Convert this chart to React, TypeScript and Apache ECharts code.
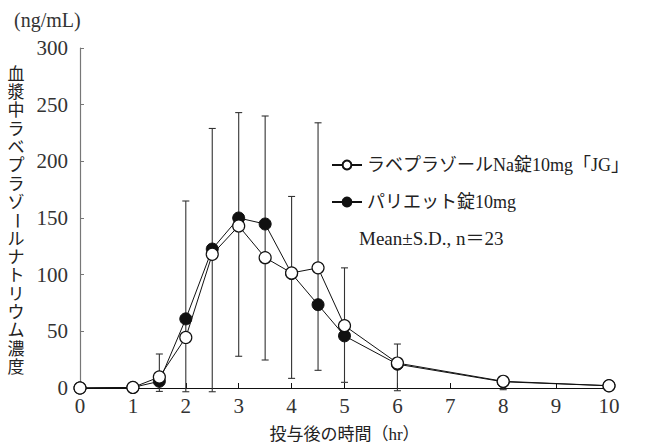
import React, { useEffect, useRef } from "react";
import * as echarts from "echarts";

const times = [0, 1, 1.5, 2, 2.5, 3, 3.5, 4, 4.5, 5, 6, 8, 10];
const jgMean = [0, 0.5, 9.7, 44.6, 118, 143, 115, 101.5, 106, 55, 22, 5.9, 2];
const parietMean = [0, 0.5, 5.9, 61, 122.6, 150, 144.7, 101, 73.5, 46, 21, 5.5, 2];
const sdTimes = [1.5, 2, 2.5, 3, 3.5, 4, 4.5, 5, 6, 8];
const sdLow = [-3, -3.3, -3.3, 28, 24.7, 8.5, 15.6, 5, -2.4, -1.5];
const sdHigh = [30, 165, 229, 243, 240, 169, 234, 106, 38.8, 8.8];
const xTicks = [0, 1, 2, 3, 4, 5, 6, 7, 8, 9, 10];
const yTicks = [0, 50, 100, 150, 200, 250, 300];
const seriesNames = ["ラベプラゾールNa錠10mg「JG」", "パリエット錠10mg"];
const yTitle = "血漿中ラベプラゾールナトリウム濃度";
const xTitle = "投与後の時間（hr）";
const unitLabel = "(ng/mL)";
const noteText = "Mean±S.D., n＝23";

const SERIF = "'Liberation Serif', 'Noto Sans CJK JP', serif";

export default function App() {
  const ref = useRef<HTMLDivElement>(null);
  useEffect(() => {
    if (!ref.current) return;
    const chart = echarts.init(ref.current, undefined, { renderer: "svg" });
    const yChars = yTitle.split("").map((ch, i) => ({
      type: "text",
      x: 16,
      y: 74 + i * 18.35,
      rotation: ch === "ー" ? -Math.PI / 2 : 0,
      style: {
        text: ch,
        fontSize: 17,
        fontFamily: SERIF,
        fill: "#222",
        align: "center",
        verticalAlign: "middle",
      },
    }));
    const option: any = {
      animation: false,
      grid: { left: 80, right: 37, top: 48, bottom: 56, outerBoundsMode: "none", containLabel: false },
      xAxis: {
        type: "value",
        min: 0,
        max: 10,
        interval: 1,
        name: xTitle,
        nameLocation: "middle",
        nameGap: 38,
        nameTextStyle: { fontSize: 17, fontFamily: SERIF, color: "#222" },
        axisLine: { lineStyle: { color: "#111", width: 1 } },
        axisTick: { inside: true, length: 5, lineStyle: { color: "#111" } },
        axisLabel: {
          fontSize: 21,
          fontFamily: SERIF,
          color: "#333",
          margin: 7,
          formatter: (v: number) => (xTicks.includes(v) ? String(v) : ""),
        },
        splitLine: { show: false },
      },
      yAxis: {
        type: "value",
        min: 0,
        max: 300,
        interval: 50,
        axisLine: { show: true, lineStyle: { color: "#777", width: 1.2 } },
        axisTick: { show: true, inside: true, length: 4, lineStyle: { color: "#777" } },
        axisLabel: {
          fontSize: 21,
          fontFamily: SERIF,
          color: "#333",
          margin: 12,
          formatter: (v: number) => (yTicks.includes(v) ? String(v) : ""),
        },
        splitLine: { show: false },
      },
      legend: {
        orient: "vertical",
        left: 326,
        top: 151,
        itemWidth: 30,
        itemHeight: 11,
        itemGap: 19,
        data: [seriesNames[0], seriesNames[1]],
        textStyle: { fontSize: 18, fontFamily: SERIF, color: "#222" },
      },
      graphic: [
        {
          type: "text",
          left: 14,
          top: 10,
          style: { text: unitLabel, fontSize: 20, fontFamily: SERIF, fill: "#333" },
        },
        {
          type: "text",
          x: 359,
          y: 238,
          style: {
            text: noteText,
            fontSize: 19,
            fontFamily: SERIF,
            fill: "#222",
            verticalAlign: "middle",
          },
        },
        ...yChars,
      ],
      series: [
        {
          type: "custom",
          name: "SD",
          clip: false,
          z: 1,
          data: sdTimes.map((t, i) => [t, sdLow[i], sdHigh[i]]),
          renderItem: (params: any, api: any) => {
            const x = api.value(0);
            const lo = api.coord([x, api.value(1)]);
            const hi = api.coord([x, api.value(2)]);
            const hw = 3.5;
            const st = { stroke: "#333", lineWidth: 1.1 };
            return {
              type: "group",
              children: [
                { type: "line", shape: { x1: lo[0], y1: lo[1], x2: hi[0], y2: hi[1] }, style: st },
                { type: "line", shape: { x1: lo[0] - hw, y1: lo[1], x2: lo[0] + hw, y2: lo[1] }, style: st },
                { type: "line", shape: { x1: hi[0] - hw, y1: hi[1], x2: hi[0] + hw, y2: hi[1] }, style: st },
              ],
            };
          },
        },
        {
          type: "line",
          name: seriesNames[1],
          data: times.map((t, i) => [t, parietMean[i]]),
          symbol: "circle",
          symbolSize: 12,
          z: 2,
          lineStyle: { color: "#111", width: 1 },
          itemStyle: { color: "#111", borderColor: "#111", borderWidth: 1 },
        },
        {
          type: "line",
          name: seriesNames[0],
          data: times.map((t, i) => [t, jgMean[i]]),
          symbol: "circle",
          symbolSize: 12,
          z: 3,
          lineStyle: { color: "#111", width: 1 },
          itemStyle: { color: "#fff", borderColor: "#111", borderWidth: 1.2 },
        },
      ],
    };
    chart.setOption(option);
    return () => chart.dispose();
  }, []);
  return <div ref={ref} style={{ width: 646, height: 444, position: "absolute", left: 0, top: 0 }} />;
}
